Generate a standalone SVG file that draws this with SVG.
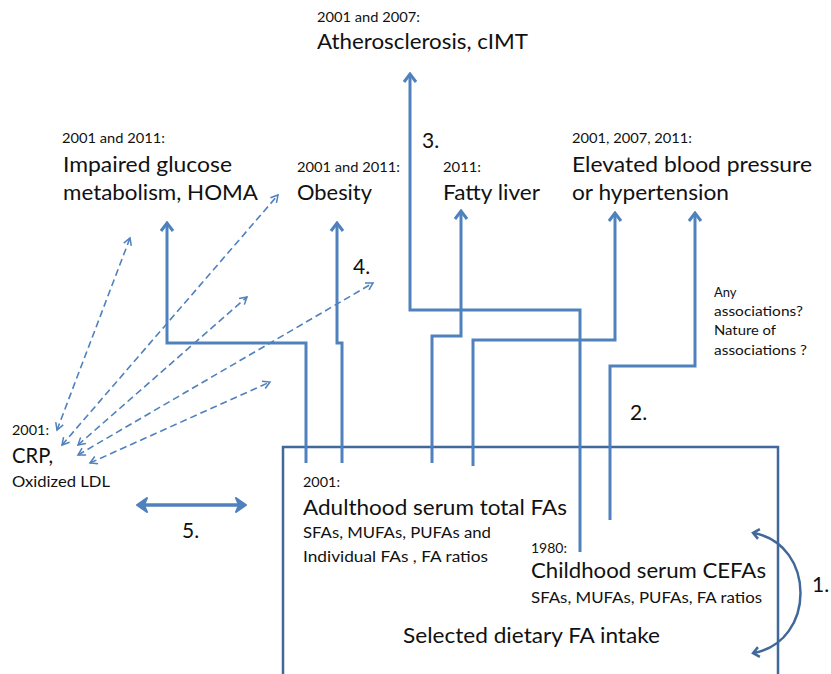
<svg xmlns="http://www.w3.org/2000/svg" width="831" height="674" viewBox="0 0 831 674">
<style>
text{font-family:Lato,"Open Sans","Liberation Sans",sans-serif;fill:#111}
.big{font-size:21px}
.sm{font-size:13px}
.md{font-size:14.5px}
.num{font-size:21px}
.solid{fill:none;stroke:#4F81BD;stroke-width:3;stroke-linejoin:miter}
.dash{fill:none;stroke:#4F81BD;stroke-width:1.6;stroke-dasharray:7 4}
.box{fill:none;stroke:#41689A;stroke-width:2.5}
</style>
<defs>
<marker id="aS" markerUnits="userSpaceOnUse" viewBox="-12 -8 14 16" refX="-1" refY="0" markerWidth="14" markerHeight="16" orient="auto">
<path d="M-8,-6 L0,0 L-8,6" fill="none" stroke="#4F81BD" stroke-width="3"/>
</marker>
<marker id="aD" markerUnits="userSpaceOnUse" viewBox="-10 -6 12 12" refX="0" refY="0" markerWidth="12" markerHeight="12" orient="auto-start-reverse">
<path d="M-7,-4 L0,0 L-7,4" fill="none" stroke="#4F81BD" stroke-width="1.5"/>
</marker>
<marker id="a5" markerUnits="userSpaceOnUse" viewBox="-14 -10 16 20" refX="-1" refY="0" markerWidth="16" markerHeight="20" orient="auto-start-reverse">
<path d="M-10,-7 L0,0 L-10,7 L-7,0 Z" fill="#4F81BD" stroke="#4F81BD" stroke-width="2" stroke-linejoin="round"/>
</marker>
<marker id="a1" markerUnits="userSpaceOnUse" viewBox="-10 -8 12 16" refX="-1" refY="0" markerWidth="12" markerHeight="16" orient="auto-start-reverse">
<path d="M-6,-5 L0,0 L-6,5" fill="none" stroke="#41689A" stroke-width="2.5"/>
</marker>
</defs>

<g id="box-exposures">
<path class="box" d="M283,676 V447 H778 V676"/>
</g>

<g id="connectors">
<path class="solid" d="M306,463 V343 H167 V224" marker-end="url(#aS)"/>
<path class="solid" d="M342,463 V343 H337 V224" marker-end="url(#aS)"/>
<path class="solid" d="M580,552 V310 H410 V75" marker-end="url(#aS)"/>
<path class="solid" d="M432,463 V336 H461 V212" marker-end="url(#aS)"/>
<path class="solid" d="M473,466 V340 H615 V214" marker-end="url(#aS)"/>
<path class="solid" d="M610,520 V366 H695 V214" marker-end="url(#aS)"/>
<path class="dash" d="M57,430 L130,238" marker-start="url(#aD)" marker-end="url(#aD)"/>
<path class="dash" d="M62,445 L278,195" marker-start="url(#aD)" marker-end="url(#aD)"/>
<path class="dash" d="M78,445 L247,297" marker-start="url(#aD)" marker-end="url(#aD)"/>
<path class="dash" d="M78,455 L373,283" marker-start="url(#aD)" marker-end="url(#aD)"/>
<path class="dash" d="M90,463 L270,382" marker-start="url(#aD)" marker-end="url(#aD)"/>
<path class="solid" style="stroke-width:3.5" d="M138,505 H245" marker-start="url(#a5)" marker-end="url(#a5)"/>
<path fill="none" stroke="#41689A" stroke-width="2.5" d="M754,533 C816,545 816,641 754,653" marker-start="url(#a1)" marker-end="url(#a1)"/>
</g>

<g id="node-athero">
<text class="sm" x="317" y="22" textLength="103" lengthAdjust="spacingAndGlyphs">2001 and 2007:</text>
<text class="big" x="317" y="49" textLength="211" lengthAdjust="spacingAndGlyphs">Atherosclerosis, cIMT</text>
</g>
<g id="node-glucose">
<text class="sm" x="62" y="143" textLength="103" lengthAdjust="spacingAndGlyphs">2001 and 2011:</text>
<text class="big" x="63" y="172" textLength="169" lengthAdjust="spacingAndGlyphs">Impaired glucose</text>
<text class="big" x="63" y="200" textLength="195" lengthAdjust="spacingAndGlyphs">metabolism, HOMA</text>
</g>
<g id="node-obesity">
<text class="sm" x="297" y="172" textLength="103" lengthAdjust="spacingAndGlyphs">2001 and 2011:</text>
<text class="big" x="297" y="200" textLength="75" lengthAdjust="spacingAndGlyphs">Obesity</text>
</g>
<g id="node-fatty">
<text class="sm" x="443" y="172" textLength="38" lengthAdjust="spacingAndGlyphs">2011:</text>
<text class="big" x="443" y="200" textLength="97" lengthAdjust="spacingAndGlyphs">Fatty liver</text>
</g>
<g id="node-bp">
<text class="sm" x="572" y="143" textLength="120" lengthAdjust="spacingAndGlyphs">2001, 2007, 2011:</text>
<text class="big" x="572" y="172" textLength="240" lengthAdjust="spacingAndGlyphs">Elevated blood pressure</text>
<text class="big" x="572" y="200" textLength="157" lengthAdjust="spacingAndGlyphs">or hypertension</text>
</g>
<g id="node-question">
<text class="sm" x="714" y="297">Any</text>
<text class="sm" x="714" y="316" textLength="89" lengthAdjust="spacingAndGlyphs">associations?</text>
<text class="sm" x="714" y="335" textLength="62" lengthAdjust="spacingAndGlyphs">Nature of</text>
<text class="sm" x="714" y="355" textLength="93" lengthAdjust="spacingAndGlyphs">associations ?</text>
</g>
<g id="node-crp">
<text class="sm" x="12" y="435" textLength="37" lengthAdjust="spacingAndGlyphs">2001:</text>
<text class="big" x="12" y="463" textLength="41" lengthAdjust="spacingAndGlyphs">CRP,</text>
<text class="md" x="12" y="487" textLength="98" lengthAdjust="spacingAndGlyphs">Oxidized LDL</text>
</g>
<g id="node-adult">
<text class="sm" x="303" y="487" textLength="37" lengthAdjust="spacingAndGlyphs">2001:</text>
<text class="big" x="303" y="515" textLength="264" lengthAdjust="spacingAndGlyphs">Adulthood serum total FAs</text>
<text class="md" x="303" y="538" textLength="188" lengthAdjust="spacingAndGlyphs">SFAs, MUFAs, PUFAs and</text>
<text class="md" x="303" y="562" textLength="185" lengthAdjust="spacingAndGlyphs">Individual FAs , FA ratios</text>
</g>
<g id="node-child">
<text class="sm" x="531" y="553" textLength="36" lengthAdjust="spacingAndGlyphs">1980:</text>
<text class="big" x="531" y="578" textLength="235" lengthAdjust="spacingAndGlyphs">Childhood serum CEFAs</text>
<text class="md" x="531" y="603" textLength="231" lengthAdjust="spacingAndGlyphs">SFAs, MUFAs, PUFAs, FA ratios</text>
</g>
<g id="node-diet">
<text class="big" x="403" y="643" textLength="257" lengthAdjust="spacingAndGlyphs">Selected dietary FA intake</text>
</g>
<g id="labels">
<text class="num" x="812" y="592">1.</text>
<text class="num" x="630" y="420">2.</text>
<text class="num" x="422" y="148">3.</text>
<text class="num" x="353" y="274">4.</text>
<text class="num" x="182" y="538">5.</text>
</g>
</svg>
